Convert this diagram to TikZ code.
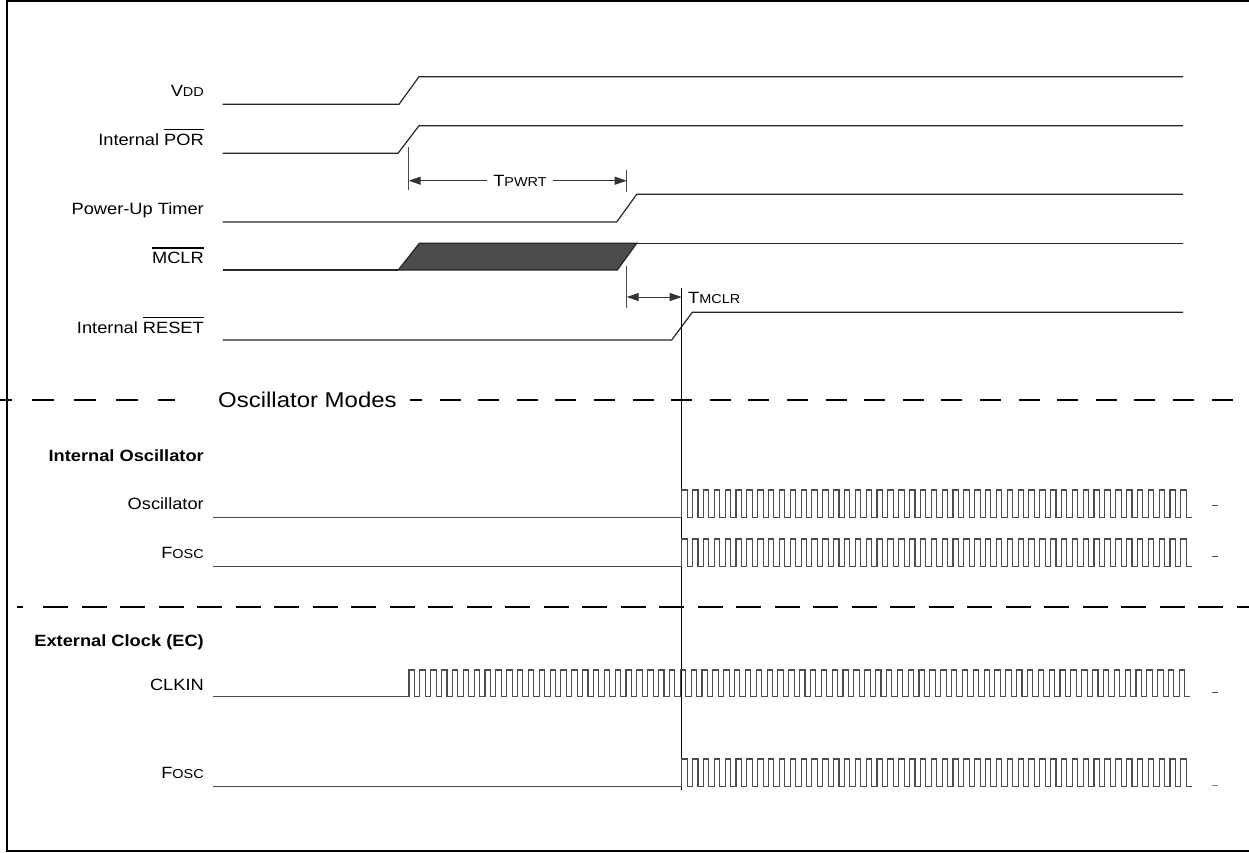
\documentclass[tikz,border=0pt]{standalone}
\usepackage{fontspec}
\setmainfont{Liberation Sans}[FakeStretch=1.12]
\usetikzlibrary{arrows.meta}
\newcommand{\ovl}[1]{\leavevmode\vbox{\hrule height 1.5pt\kern 3.2pt\hbox{#1}}}
\newcommand{\smc}[1]{{\fontsize{12.9}{14}\selectfont #1}}
\begin{document}
\begin{tikzpicture}[x=1pt,y=-1pt,
  lbl/.style={font=\fontsize{16.3}{18}\selectfont, inner sep=0pt, anchor=base east},
  head/.style={font=\bfseries\fontsize{16.3}{18}\selectfont, inner sep=0pt, anchor=base east},
  sig/.style={line width=1.2pt, black!85},
  clk/.style={line width=1.1pt, black!70, line join=miter},
  tick/.style={line width=0.9pt, black!70},
  dimarrow/.style={line width=1pt, black!80, -{Triangle[length=12pt,width=8pt]}},
  dimboth/.style={line width=1pt, black!80, {Triangle[length=12pt,width=8pt]}-{Triangle[length=12pt,width=8pt]}},
  sep1/.style={line width=2pt, dash pattern=on 22pt off 20pt},
  sep2/.style={line width=2pt, dash pattern=on 21pt off 17.6pt, dash phase=9pt},
  sep3/.style={line width=2pt, dash pattern=on 25pt off 13.5pt},
  frame/.style={line width=2.2pt, black},
  stub/.style={line width=1pt, black!70}
]
\useasboundingbox (0,0) rectangle (1249,852);
% frame
\draw[frame] (1249,1) -- (7,1) -- (7,851) -- (1249,851);

% labels
\node[lbl] (lvdd) at (204,96.7) {V\smc{DD}};
\node[lbl] (lpor) at (204,145) {Internal \ovl{POR}};
\node[lbl] (lput) at (204,214.3) {Power-Up Timer};
\node[lbl] (lmclr) at (204,263.3) {\ovl{MCLR}};
\node[lbl] (lrst) at (204,333) {Internal \ovl{RESET}};
\node[font=\fontsize{21.4}{24}\selectfont, inner sep=0pt, anchor=base west] (lmodes) at (218,407) {Oscillator Modes};
\node[head] (lint) at (204,461.7) {Internal Oscillator};
\node[lbl] (losc) at (204,509.3) {Oscillator};
\node[lbl] (lfosc1) at (204,558.3) {F\smc{OSC}};
\node[head] (lext) at (204,646.7) {External Clock (EC)};
\node[lbl] (lclkin) at (204,690) {CLKIN};
\node[lbl] (lfosc2) at (204,778.3) {F\smc{OSC}};

% VDD
\draw[sig] (222.7,104.3) -- (399,104.3) -- (419,76.7) -- (1183,76.7);
% Internal POR
\draw[sig] (222.7,153.3) -- (398,153.3) -- (419,125.7) -- (1183,125.7);
% Power-up timer
\draw[sig] (222.7,222) -- (616.7,222) -- (636.7,194.3) -- (1183,194.3);
% MCLR
\draw[sig] (222.7,270) -- (398.3,270);
\draw[sig, fill=black!70] (398.3,270) -- (419.3,243.3) -- (636.7,243.3) -- (617.3,270) -- cycle;
\draw[sig] (636.7,243.3) -- (1183,243.3);
% Internal RESET
\draw[sig] (222.7,340) -- (671.7,340) -- (692.3,312.3) -- (1183,312.3);

% TPWRT dimension
\coordinate (pl) at (408.7,180.7);
\coordinate (pr) at (626.7,180.7);
\draw[tick] (408.7,147) -- (408.7,190);
\draw[tick] (626.7,170) -- (626.7,192);
\node[font=\fontsize{16.3}{18}\selectfont, inner sep=6pt, anchor=base] (tpwrt) at (520,186) {T\smc{PWRT}};
\draw[dimarrow] (tpwrt.west |- pl) -- (pl);
\draw[dimarrow] (tpwrt.east |- pr) -- (pr);

% TMCLR dimension
\coordinate (ml) at (626.7,297);
\coordinate (mr) at (681.7,297);
\draw[tick] (626.7,266) -- (626.7,308);
\draw[dimboth] (ml) -- (mr);
\node[font=\fontsize{16.3}{18}\selectfont, inner sep=0pt, anchor=base west] (tmclr) at (688,303.3) {T\smc{MCLR}};

% reference vertical line
\coordinate (vtop) at (681.7,288);
\coordinate (vbot) at (681.7,790);
\draw[line width=1.1pt] (vtop) -- (vbot);

% separators
\draw[sep1] (-10,400) -- (175,400);
\draw[sep2] (410,400) -- (1249,400);
\draw[line width=2pt] (17,607) -- (23,607);
\draw[sep3] (43,607) -- (1249,607);

% Internal oscillator
\draw[clk] (213,517.7) -- (681.7,517.7)
  \foreach \i in {1,...,47}{ -- ++(0,-27.7) -- ++(5.4,0) -- ++(0,27.7) -- ++(5.45,0)};
\draw[clk] (213,566.7) -- (681.7,566.7)
  \foreach \i in {1,...,47}{ -- ++(0,-27.7) -- ++(5.4,0) -- ++(0,27.7) -- ++(5.45,0)};
% External clock
\draw[clk] (213,696.7) -- (409,696.7)
  \foreach \i in {1,...,72}{ -- ++(0,-26.7) -- ++(5.4,0) -- ++(0,26.7) -- ++(5.45,0)};
\draw[clk] (213,786.7) -- (681.7,786.7)
  \foreach \i in {1,...,47}{ -- ++(0,-27.7) -- ++(5.4,0) -- ++(0,27.7) -- ++(5.45,0)};

% stubs at right
\draw[stub] (1212,505.7) -- (1218,505.7);
\draw[stub] (1212,556) -- (1218,556);
\draw[stub] (1212,692) -- (1218,692);
\draw[stub, black!50] (1212,785.7) -- (1218,785.7);
\end{tikzpicture}
\end{document}
